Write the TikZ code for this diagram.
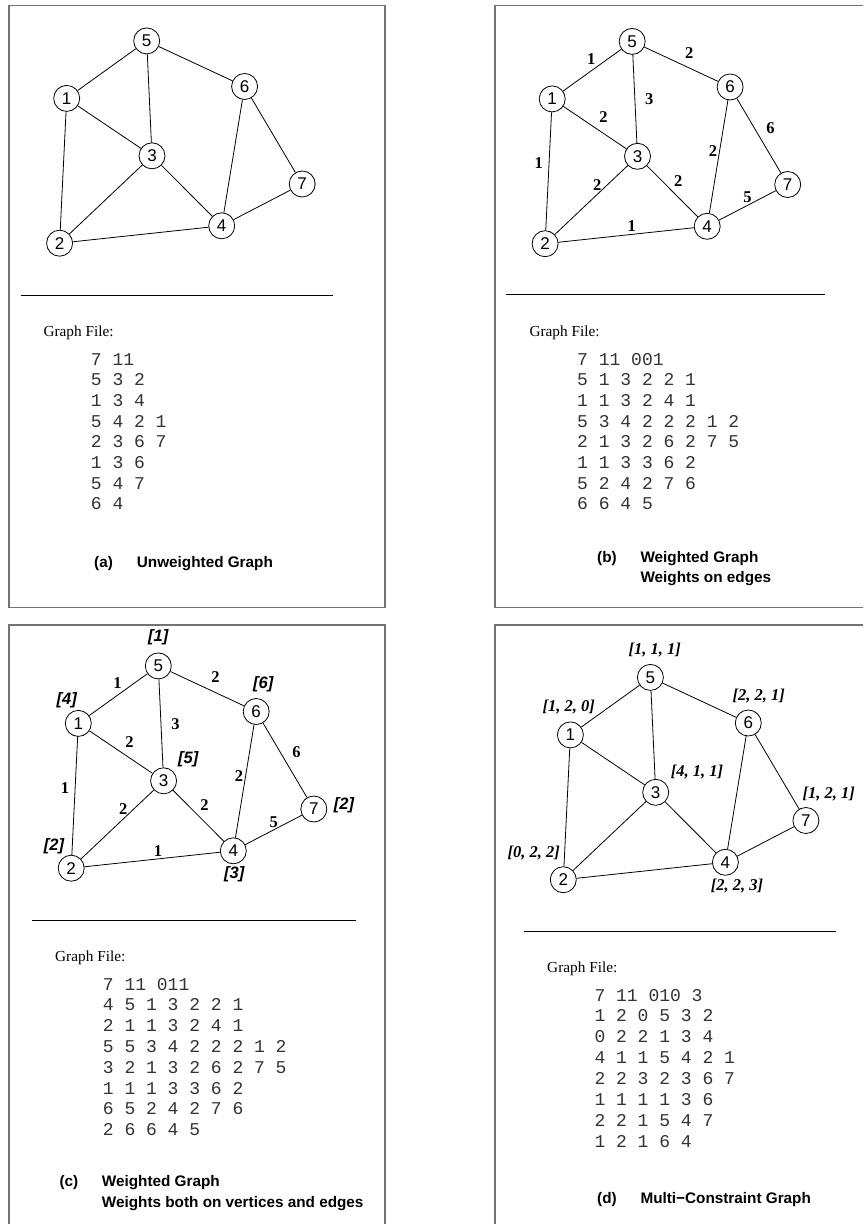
\documentclass[tikz,border=0pt]{standalone}
\usepackage{fontspec}
\setmainfont{Liberation Serif}
\setsansfont{Liberation Sans}
\setmonofont{Liberation Mono}
\usetikzlibrary{positioning}

% the same seven vertices and eleven edges in every panel
\newcommand{\graphbase}[1]{%
  \node[vtx] (#1-5) at (146.7,40.9) {5};
  \node[vtx] (#1-1) at (66.7,98.4) {1};
  \node[vtx] (#1-6) at (244.6,86.5) {6};
  \node[vtx] (#1-3) at (152.0,155.8) {3};
  \node[vtx] (#1-7) at (302.2,184.0) {7};
  \node[vtx] (#1-4) at (221.7,225.8) {4};
  \node[vtx] (#1-2) at (59.6,243.2) {2};
  \draw[link] (#1-5) -- (#1-1);
  \draw[link] (#1-5) -- (#1-6);
  \draw[link] (#1-5) -- (#1-3);
  \draw[link] (#1-1) -- (#1-3);
  \draw[link] (#1-1) -- (#1-2);
  \draw[link] (#1-3) -- (#1-2);
  \draw[link] (#1-3) -- (#1-4);
  \draw[link] (#1-6) -- (#1-4);
  \draw[link] (#1-6) -- (#1-7);
  \draw[link] (#1-7) -- (#1-4);
  \draw[link] (#1-2) -- (#1-4);
}

% edge weights, used in (b) and (c)
\newcommand{\edgeweights}[1]{%
  \node[ewt] (#1-w51) at (105.8,58.5) {1};
  \node[ewt] (#1-w56) at (203.8,52.1) {2};
  \node[ewt] (#1-w53) at (163.8,98.8) {3};
  \node[ewt] (#1-w13) at (118.0,116.6) {2};
  \node[ewt] (#1-w67) at (285.0,127.3) {6};
  \node[ewt] (#1-w12) at (53.3,162.6) {1};
  \node[ewt] (#1-w64) at (227.5,150.8) {2};
  \node[ewt] (#1-w23) at (111.7,184.3) {2};
  \node[ewt] (#1-w34) at (192.8,180.2) {2};
  \node[ewt] (#1-w47) at (262.1,196.8) {5};
  \node[ewt] (#1-w24) at (146.3,225.8) {1};
}

\begin{document}
\begin{tikzpicture}[
  x=1pt, y=-1pt,
  vtx/.style={draw, circle, line width=0.8pt, minimum size=26pt, inner sep=0pt,
    font=\fontsize{17}{20}\selectfont\sffamily},
  link/.style={line width=0.8pt},
  ewt/.style={inner sep=0pt, font=\fontsize{16.5}{19}\selectfont\rmfamily\bfseries},
  vwt/.style={inner sep=0pt, font=\fontsize{16.5}{19}\selectfont\sffamily\bfseries\itshape},
  mcw/.style={inner sep=0pt, font=\fontsize{16.5}{19}\selectfont\rmfamily\bfseries\itshape},
  panel/.style={draw=black!55, line width=1.6pt},
  sepline/.style={line width=1pt},
  gtitle/.style={inner sep=0pt, anchor=base west, font=\fontsize{15.3}{18}\selectfont\rmfamily},
  filetxt/.style={inner sep=0pt, anchor=base west, text=black!80, font=\fontsize{18}{21}\selectfont\ttfamily},
  capt/.style={inner sep=0pt, anchor=base west, font=\fontsize{15.3}{18}\selectfont\sffamily\bfseries}
]
\useasboundingbox (0,0) rectangle (863,1224);
\clip (0,0) rectangle (863,1224);

% panel frames
\draw[panel] (9,5.5) rectangle (385,607.5);
\draw[panel] (875,5.5) -| (495,607.5) -- (875,607.5);
\draw[panel] (9,1235) |- (385,625) -- (385,1235);
\draw[panel] (495,1235) |- (875,625);

% (a) unweighted graph
\graphbase{a}
\draw[sepline] (20.7,295) -- (332.7,295);
\node[gtitle] (a-head) at (43.3,336.7) {Graph File:};
\foreach \txt [count=\i from 0] in {{7 11},{5 3 2},{1 3 4},{5 4 2 1},{2 3 6 7},{1 3 6},{5 4 7},{6 4}}
  \node[filetxt] (a-f\i) at (90.7,{365+20.7*\i}) {\txt};
\node[capt] (a-tag) at (94,567) {(a)};
\node[capt] (a-cap) at (136.7,567) {Unweighted Graph};

% (b) weights on edges
\begin{scope}[shift={(485.5,0.5)}]
  \graphbase{b}
  \edgeweights{b}
\end{scope}
\draw[sepline] (506,294.7) -- (824.7,294.7);
\node[gtitle] (b-head) at (529.3,336.7) {Graph File:};
\foreach \txt [count=\i from 0] in {{7 11 001},{5 1 3 2 2 1},{1 1 3 2 4 1},{5 3 4 2 2 2 1 2},{2 1 3 2 6 2 7 5},{1 1 3 3 6 2},{5 2 4 2 7 6},{6 6 4 5}}
  \node[filetxt] (b-f\i) at (577,{365+20.7*\i}) {\txt};
\node[capt] (b-tag) at (597,562.7) {(b)};
\node[capt] (b-cap) at (640.3,562.7) {Weighted Graph};
\node[capt] (b-cap2) at (640.3,582.7) {Weights on edges};

% (c) weights on vertices and edges
\begin{scope}[shift={(11.6,625)}]
  \graphbase{c}
  \edgeweights{c}
  \node[vwt] (c-v5) at (146.7,12.3) {[1]};
  \node[vwt] (c-v1) at (55.1,75) {[4]};
  \node[vwt] (c-v6) at (251.7,59.3) {[6]};
  \node[vwt] (c-v3) at (176.7,134.3) {[5]};
  \node[vwt] (c-v7) at (332.4,180) {[2]};
  \node[vwt] (c-v2) at (42.4,221) {[2]};
  \node[vwt] (c-v4) at (222.7,249.3) {[3]};
\end{scope}
\draw[sepline] (32,920) -- (356,920);
\node[gtitle] (c-head) at (55,961.7) {Graph File:};
\foreach \txt [count=\i from 0] in {{7 11 011},{4 5 1 3 2 2 1},{2 1 1 3 2 4 1},{5 5 3 4 2 2 2 1 2},{3 2 1 3 2 6 2 7 5},{1 1 1 3 3 6 2},{6 5 2 4 2 7 6},{2 6 6 4 5}}
  \node[filetxt] (c-f\i) at (102.7,{990+20.8*\i}) {\txt};
\node[capt] (c-tag) at (59.3,1186.7) {(c)};
\node[capt] (c-cap) at (101.7,1186.7) {Weighted Graph};
\node[capt] (c-cap2) at (101.7,1207.3) {Weights both on vertices and edges};

% (d) multi-constraint graph
\begin{scope}[shift={(503.7,636.5)}]
  \graphbase{d}
  \node[mcw] (d-v5) at (151,13.5) {[1, 1, 1]};
  \node[mcw] (d-v1) at (65,70.8) {[1, 2, 0]};
  \node[mcw] (d-v6) at (255,59.2) {[2, 2, 1]};
  \node[mcw] (d-v3) at (193.3,135.2) {[4, 1, 1]};
  \node[mcw] (d-v7) at (325,157.8) {[1, 2, 1]};
  \node[mcw] (d-v2) at (30,216.8) {[0, 2, 2]};
  \node[mcw] (d-v4) at (233.3,249.2) {[2, 2, 3]};
\end{scope}
\draw[sepline] (523.7,931.7) -- (836.3,931.7);
\node[gtitle] (d-head) at (547,972.7) {Graph File:};
\foreach \txt [count=\i from 0] in {{7 11 010 3},{1 2 0 5 3 2},{0 2 2 1 3 4},{4 1 1 5 4 2 1},{2 2 3 2 3 6 7},{1 1 1 1 3 6},{2 2 1 5 4 7},{1 2 1 6 4}}
  \node[filetxt] (d-f\i) at (594.3,{1001+20.9*\i}) {\txt};
\node[capt] (d-tag) at (597,1203.3) {(d)};
\node[capt] (d-cap) at (640.3,1203.3) {Multi−Constraint Graph};
\end{tikzpicture}
\end{document}
